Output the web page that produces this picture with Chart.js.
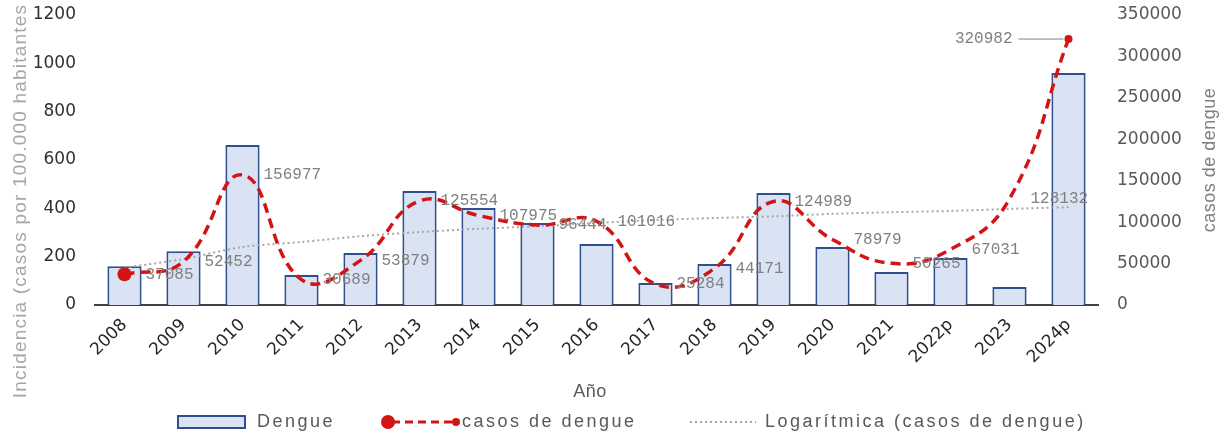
<!DOCTYPE html>
<html>
<head>
<meta charset="utf-8">
<script src="https://cdn.jsdelivr.net/npm/chart.js@4/dist/chart.umd.min.js"></script>
<style>
html,body{margin:0;padding:0;background:#fff;}
#wrap{width:1226px;height:435px;}
</style>
</head>
<body>
<div id="wrap"><canvas id="c" width="1226" height="435"></canvas></div>
<script>
const years = ['2008','2009','2010','2011','2012','2013','2014','2015','2016','2017','2018','2019','2020','2021','2022p','2023','2024p'];
const incidence = [160,222,662,124,215,472,401,339,252,91,170,463,240,137,194,75,960];
const cases = [37085,52452,156977,30689,53879,125554,107975,96444,101016,25284,44171,124989,78979,50265,67031,128132,320982];
const trendCases = [45000,55500,70000,76000,83000,88000,92000,95000,99000,102500,105000,107000,110000,112000,113500,116000,118000];
const leftTicks = [0,200,400,600,800,1000,1200];
const rightTicks = [0,50000,100000,150000,200000,250000,300000,350000];

const RED = '#d21414';
const BAR_FILL = '#dae3f3';
const BAR_EDGE = '#2f4f8f';
const TREND = '#a6a6a6';

const extras = {
  id: 'extras',
  afterDatasetsDraw(chart) {
    const ctx = chart.ctx;
    const meta = chart.getDatasetMeta(1);
    ctx.save();
    ctx.font = '16px "Liberation Mono"';
    ctx.fillStyle = '#808080';
    ctx.textBaseline = 'middle';
    meta.data.forEach((pt, i) => {
      const txt = String(cases[i]);
      if (i === cases.length - 1) {
        ctx.textAlign = 'right';
        ctx.fillText(txt, pt.x - 56, pt.y);
        ctx.strokeStyle = '#808080';
        ctx.lineWidth = 1;
        ctx.beginPath();
        ctx.moveTo(pt.x - 50, pt.y);
        ctx.lineTo(pt.x - 5, pt.y);
        ctx.stroke();
      } else {
        ctx.textAlign = 'left';
        ctx.fillText(txt, pt.x + 21, pt.y);
      }
    });
    ctx.restore();
  },
  afterDraw(chart) {
    const ctx = chart.ctx;
    ctx.save();
    // left title
    ctx.save();
    ctx.font = '19px "Liberation Sans"';
    ctx.letterSpacing = '1.2px';
    ctx.fillStyle = '#a6a6a6';
    ctx.textAlign = 'center';
    ctx.textBaseline = 'middle';
    ctx.translate(21, 201);
    ctx.rotate(-Math.PI / 2);
    ctx.fillText('Incidencia (casos por 100.000 habitantes', 0, 0);
    ctx.restore();
    // right title
    ctx.save();
    ctx.font = '18px "Liberation Sans"';
    ctx.letterSpacing = '0.5px';
    ctx.fillStyle = '#808080';
    ctx.textAlign = 'center';
    ctx.textBaseline = 'middle';
    ctx.translate(1210, 160);
    ctx.rotate(-Math.PI / 2);
    ctx.fillText('casos de dengue', 0, 0);
    ctx.restore();
    // x title
    ctx.font = '18px "Liberation Sans"';
    ctx.letterSpacing = '0.5px';
    ctx.fillStyle = '#595959';
    ctx.textAlign = 'center';
    ctx.textBaseline = 'middle';
    ctx.fillText('Año', 590, 392);
    // legend
    const ly = 422;
    ctx.letterSpacing = '2.5px';
    ctx.textAlign = 'left';
    ctx.fillStyle = BAR_FILL;
    ctx.fillRect(178, 416, 67, 12);
    ctx.strokeStyle = BAR_EDGE;
    ctx.lineWidth = 2;
    ctx.strokeRect(178, 416, 67, 12);
    ctx.fillStyle = '#595959';
    ctx.fillText('Dengue', 257, ly);
    // red line sample
    ctx.strokeStyle = RED;
    ctx.lineWidth = 3;
    ctx.setLineDash([8, 5]);
    ctx.beginPath();
    ctx.moveTo(392, ly);
    ctx.lineTo(453, ly);
    ctx.stroke();
    ctx.setLineDash([]);
    ctx.fillStyle = RED;
    ctx.beginPath(); ctx.arc(388, ly, 7, 0, Math.PI * 2); ctx.fill();
    ctx.beginPath(); ctx.arc(456, ly, 4, 0, Math.PI * 2); ctx.fill();
    ctx.fillStyle = '#595959';
    ctx.fillText('casos de dengue', 462, ly);
    // trend sample
    ctx.strokeStyle = TREND;
    ctx.lineWidth = 2;
    ctx.setLineDash([2, 3]);
    ctx.beginPath();
    ctx.moveTo(690, ly);
    ctx.lineTo(756, ly);
    ctx.stroke();
    ctx.setLineDash([]);
    ctx.fillText('Logarítmica (casos de dengue)', 765, ly);
    ctx.restore();
  }
};

function fixV(width) {
  return function (s) { s.width = width; s.paddingTop = 0; s.paddingBottom = 0; };
}

new Chart(document.getElementById('c'), {
  data: {
    labels: years,
    datasets: [
      {
        type: 'bar',
        label: 'Dengue',
        data: incidence,
        yAxisID: 'y',
        backgroundColor: BAR_FILL,
        borderColor: BAR_EDGE,
        borderWidth: 2,
        categoryPercentage: 1,
        barPercentage: 0.58,
        order: 3
      },
      {
        type: 'line',
        label: 'casos de dengue',
        data: cases,
        yAxisID: 'y1',
        borderColor: RED,
        backgroundColor: RED,
        borderWidth: 3.5,
        borderDash: [10, 6],
        tension: 0.45,
        pointRadius: cases.map((v, i) => i === 0 ? 7 : (i === cases.length - 1 ? 4 : 0)),
        pointBackgroundColor: RED,
        pointBorderWidth: 0,
        fill: false,
        order: 1
      },
      {
        type: 'line',
        label: 'Logarítmica (casos de dengue)',
        data: trendCases,
        yAxisID: 'y1',
        borderColor: TREND,
        borderWidth: 2,
        borderDash: [2, 3],
        pointRadius: 0,
        tension: 0.3,
        fill: false,
        order: 2
      }
    ]
  },
  options: {
    responsive: false,
    animation: false,
    layout: { padding: { top: 15, bottom: 0, left: 0, right: 0 } },
    plugins: {
      legend: { display: false },
      tooltip: { enabled: false }
    },
    scales: {
      x: {
        grid: { display: false, drawTicks: false },
        border: { display: true, color: '#404040', width: 2 },
        ticks: {
          color: '#262626',
          font: { family: 'DejaVu Sans', size: 17 },
          minRotation: 45,
          maxRotation: 45,
          padding: 10,
          autoSkip: false
        },
        afterFit(s) { s.height = 130; s.paddingLeft = 0; s.paddingRight = 0; }
      },
      y: {
        position: 'left',
        min: 0, max: 1200,
        afterBuildTicks(s) { s.ticks = leftTicks.map(v => ({ value: v })); },
        grid: { display: false, drawTicks: false },
        border: { display: false },
        ticks: {
          color: '#303030',
          font: { family: 'DejaVu Sans', size: 17 },
          padding: 19,
          callback: v => String(v)
        },
        afterFit: fixV(95)
      },
      y1: {
        position: 'right',
        min: 0, max: 350000,
        afterBuildTicks(s) { s.ticks = rightTicks.map(v => ({ value: v })); },
        grid: { display: false, drawTicks: false },
        border: { display: false },
        ticks: {
          color: '#595959',
          font: { family: 'DejaVu Sans', size: 17 },
          padding: 19,
          callback: v => String(v)
        },
        afterFit: fixV(128)
      }
    }
  },
  plugins: [extras]
});
</script>
</body>
</html>
